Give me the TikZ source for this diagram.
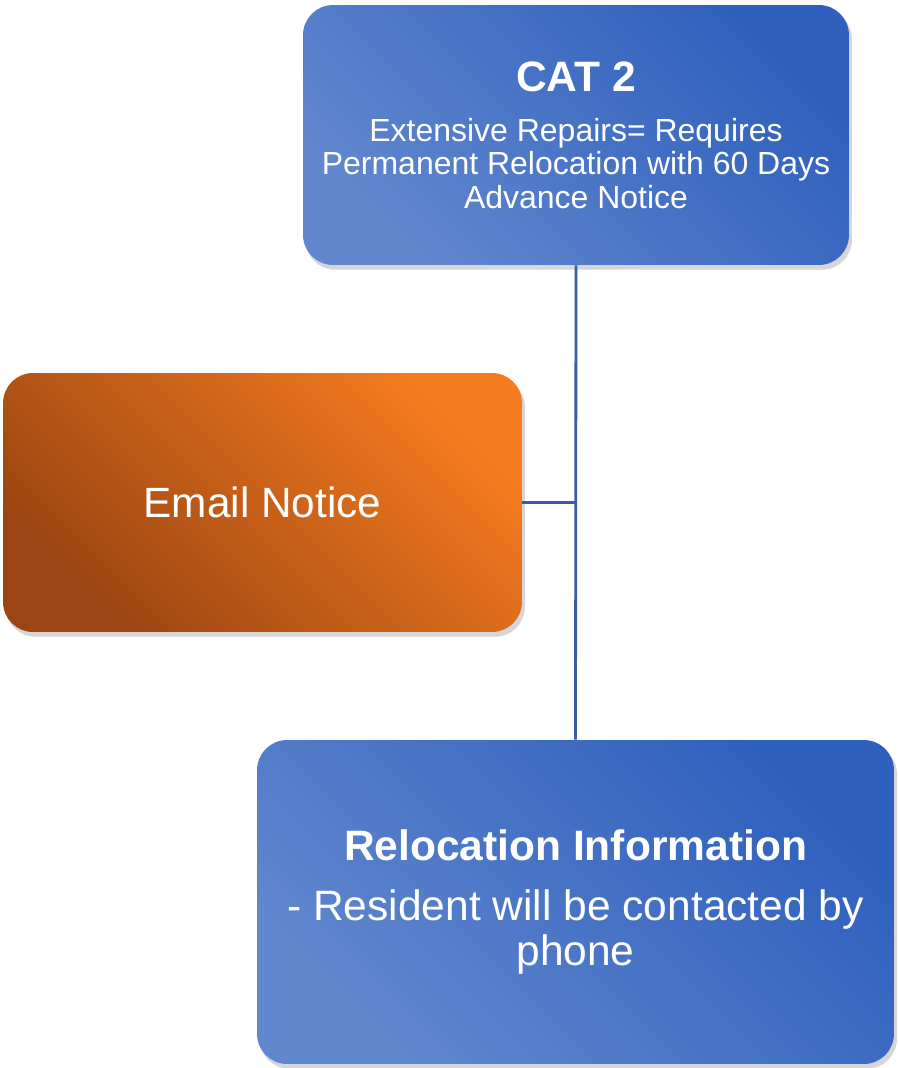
\documentclass[tikz,border=0pt]{standalone}
\usepackage{fontspec}
\setmainfont{Liberation Sans}
\usetikzlibrary{backgrounds}
\definecolor{bluedark}{HTML}{2F60BD}
\definecolor{bluelight}{HTML}{6187CE}
\definecolor{orangedark}{HTML}{9A4512}
\definecolor{orangelight}{HTML}{F57B20}
\definecolor{linkblue}{HTML}{3A5BA8}
\tikzset{
  card/.style={rectangle, rounded corners=0.6cm, text=white, align=center,
    inner sep=0pt},
  bluecard/.style={card, top color=bluedark, bottom color=bluelight, shading angle=-45},
  orangecard/.style={card, top color=orangelight, bottom color=orangedark, shading angle=-45},
  cardshadow/.style={fill=black, opacity=0.16, rounded corners=0.6cm},
  link/.style={draw=linkblue, line width=1.6pt},
}
\begin{document}
\begin{tikzpicture}[x=0.02cm, y=0.02cm]
  \useasboundingbox (0,0) rectangle (897,-1068);

  \node[bluecard, minimum width=10.92cm, minimum height=5.2cm,
        font=\fontsize{18.2}{18.8}\selectfont] (cat) at (576,-135)
    {{\fontsize{24.2}{28}\selectfont\bfseries CAT 2}\\[10pt]
     Extensive Repairs= Requires\\
     Permanent Relocation with 60 Days\\
     Advance Notice};

  \node[orangecard, minimum width=10.38cm, minimum height=5.18cm,
        font=\fontsize{24.1}{28}\selectfont] (email) at (262.5,-502.5)
    {Email Notice};

  \node[bluecard, minimum width=12.74cm, minimum height=6.48cm,
        font=\fontsize{24.2}{25.5}\selectfont] (reloc) at (575.5,-902)
    {{\bfseries Relocation Information}\\[8.5pt]
     - Resident will be contacted by\\
     phone};

  \begin{scope}[on background layer]
    \foreach \n in {cat,email,reloc}
      \fill[cardshadow] ([shift={(1.5pt,-2.5pt)}]\n.south west)
        rectangle ([shift={(1.5pt,-2.5pt)}]\n.north east);
  \end{scope}

  \draw[link] (cat.south) -- (reloc.north);
  \draw[link] (email.east) -- (email.east -| cat.south);
\end{tikzpicture}
\end{document}
